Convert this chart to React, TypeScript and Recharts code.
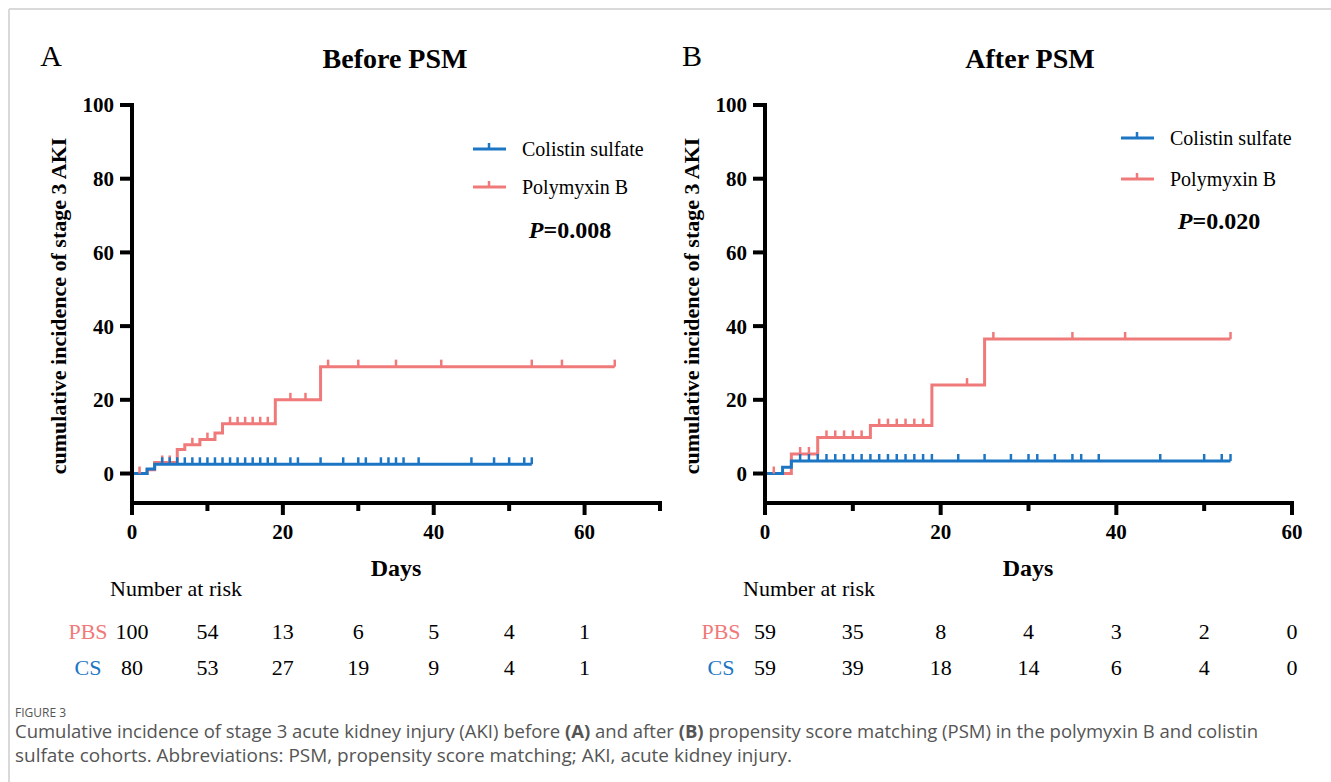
import React from "react";
import { LineChart, Line, XAxis, YAxis } from "recharts";

const BLUE = "#1d76c4";
const RED = "#f07a7a";
const SERIF = "'Liberation Serif', 'Times New Roman', serif";
const SANS = "'Open Sans', 'Noto Sans', sans-serif";

// panel A: before PSM  ([day, cumulative %] at each event step, then censor days)
const A_PB_STEPS: [number, number][] = [[0, 0], [2, 1], [3, 3], [6, 6.5], [7, 7.8], [9, 9.2], [11, 11], [12, 13.5], [19, 20], [25, 29]];
const A_PB_CENSOR = [1, 4, 5, 8, 10, 13, 14, 15, 16, 17, 18, 21, 23, 26, 30, 35, 41, 53, 57, 64];
const A_CS_STEPS: [number, number][] = [[0, 0], [2, 1.25], [3, 2.5]];
const A_CS_CENSOR = [4, 5, 6, 7, 8, 9, 10, 11, 12, 13, 14, 15, 16, 17, 18, 19, 21, 22, 25, 28, 30, 31, 33, 34, 35, 36, 38, 45, 48, 50, 52, 53];
const A_PB_RISK = [100, 54, 13, 6, 5, 4, 1];
const A_CS_RISK = [80, 53, 27, 19, 9, 4, 1];

// panel B: after PSM
const B_PB_STEPS: [number, number][] = [[0, 0], [3, 5.3], [6, 9.8], [12, 13], [19, 24], [25, 36.5]];
const B_PB_CENSOR = [1, 4, 5, 7, 8, 9, 10, 11, 13, 14, 15, 16, 17, 18, 23, 26, 35, 41, 53];
const B_CS_STEPS: [number, number][] = [[0, 0], [2, 1.7], [3, 3.4]];
const B_CS_CENSOR = [4, 5, 6, 7, 8, 9, 10, 11, 12, 13, 14, 15, 16, 17, 18, 19, 22, 25, 28, 30, 31, 33, 35, 36, 38, 45, 50, 52, 53];
const B_PB_RISK = [59, 35, 8, 4, 3, 2, 0];
const B_CS_RISK = [59, 39, 18, 14, 6, 4, 0];

const RISK_DAYS = [0, 10, 20, 30, 40, 50, 60];
const Y_TICKS = [0, 20, 40, 60, 80, 100];
const A_X_TICKS = [0, 10, 20, 30, 40, 50, 60, 70];
const B_X_TICKS = [0, 10, 20, 30, 40, 50, 60];

type Pt = { t: number; v: number; c: boolean };

function buildCurve(steps: [number, number][], censor: number[]): Pt[] {
  const pts: Pt[] = steps.map(([t, v]) => ({ t, v, c: false }));
  censor.forEach((t) => {
    let v = 0;
    steps.forEach(([s, lv]) => {
      if (s <= t) v = lv;
    });
    pts.push({ t, v, c: true });
  });
  return pts.sort((a, b) => a.t - b.t || Number(a.c) - Number(b.c));
}

const censorDot = (color: string) => (props: any) => {
  const { cx, cy, payload, index } = props;
  if (!payload || !payload.c) return <g key={index} />;
  return <line key={index} x1={cx} x2={cx} y1={cy} y2={cy - 7} stroke={color} strokeWidth={2.5} />;
};

function XTick(props: any) {
  const { x, y, payload, pbRisk, csRisk } = props;
  const v = payload.value;
  const major = v % 20 === 0;
  const ri = RISK_DAYS.indexOf(v);
  return (
    <g>
      <line x1={x} x2={x} y1={y} y2={y + (major ? 12 : 8)} stroke="#000" strokeWidth={4} />
      {major && (
        <text x={x} y={y + 29} textAnchor="middle" dominantBaseline="central" fontFamily={SERIF} fontSize={21} fontWeight={700} fill="#000">
          {v}
        </text>
      )}
      {ri >= 0 && (
        <g fontFamily={SERIF} fontSize={22} fill="#000">
          <text x={x} y={y + 128} textAnchor="middle" dominantBaseline="central">{pbRisk[ri]}</text>
          <text x={x} y={y + 164} textAnchor="middle" dominantBaseline="central">{csRisk[ri]}</text>
        </g>
      )}
      {ri === 0 && (
        <g fontFamily={SERIF} fontSize={22}>
          <text x={x - 22} y={y + 85} dominantBaseline="central" fill="#000">Number at risk</text>
          <text x={x - 44} y={y + 128} textAnchor="middle" dominantBaseline="central" fill={RED}>PBS</text>
          <text x={x - 44} y={y + 164} textAnchor="middle" dominantBaseline="central" fill={BLUE}>CS</text>
        </g>
      )}
    </g>
  );
}

function Panel(props: {
  left: number;
  width: number;
  right: number;
  xMax: number;
  xTicks: number[];
  pb: Pt[];
  cs: Pt[];
  pbRisk: number[];
  csRisk: number[];
}) {
  const { left, width, right, xMax, xTicks, pb, cs, pbRisk, csRisk } = props;
  return (
    <div style={{ position: "absolute", left, top: 0 }}>
      <LineChart width={width} height={700} margin={{ top: 105, right, left: 0, bottom: 0 }}>
        <XAxis
          type="number"
          dataKey="t"
          domain={[0, xMax]}
          ticks={xTicks}
          interval={0}
          allowDataOverflow
          height={197}
          tickSize={0}
          tickMargin={0}
          tickLine={false}
          axisLine={{ stroke: "#000", strokeWidth: 4, strokeLinecap: "square" }}
          tick={(p: any) => <XTick {...p} pbRisk={pbRisk} csRisk={csRisk} />}
        />
        <YAxis
          type="number"
          domain={[-8, 100]}
          ticks={Y_TICKS}
          interval={0}
          allowDataOverflow
          width={132}
          tickSize={12}
          tickMargin={6}
          tickLine={{ stroke: "#000", strokeWidth: 4 }}
          axisLine={{ stroke: "#000", strokeWidth: 4, strokeLinecap: "square" }}
          tick={{ fontFamily: SERIF, fontSize: 21, fontWeight: 700, fill: "#000" }}
        />
        <Line
          data={pb}
          dataKey="v"
          type="stepAfter"
          stroke={RED}
          strokeWidth={3}
          dot={censorDot(RED)}
          activeDot={false}
          isAnimationActive={false}
        />
        <Line
          data={cs}
          dataKey="v"
          type="stepAfter"
          stroke={BLUE}
          strokeWidth={3}
          dot={censorDot(BLUE)}
          activeDot={false}
          isAnimationActive={false}
        />
      </LineChart>
    </div>
  );
}

function LegendItem({ x, y, color, label }: { x: number; y: number; color: string; label: string }) {
  return (
    <g>
      <line x1={x} x2={x + 33} y1={y} y2={y} stroke={color} strokeWidth={3} />
      <line x1={x + 16} x2={x + 16} y1={y} y2={y - 6} stroke={color} strokeWidth={2.5} />
      <text x={x + 49} y={y} dominantBaseline="central" fontFamily={SERIF} fontSize={20} fill="#000">
        {label}
      </text>
    </g>
  );
}

function Overlay() {
  const t = { fontFamily: SERIF, fill: "#000" };
  return (
    <svg width={1331} height={782} style={{ position: "absolute", left: 0, top: 0, pointerEvents: "none" }}>
      <line x1={9} y1={9} x2={1331} y2={9} stroke="#d9d9d9" strokeWidth={2} />
      <line x1={9} y1={9} x2={9} y2={782} stroke="#d9d9d9" strokeWidth={2} />

      <text x={51} y={55} textAnchor="middle" dominantBaseline="central" fontSize={30} {...t}>A</text>
      <text x={395} y={58} textAnchor="middle" dominantBaseline="central" fontSize={28} fontWeight={700} {...t}>Before PSM</text>
      <text x={692} y={55} textAnchor="middle" dominantBaseline="central" fontSize={30} {...t}>B</text>
      <text x={1030} y={58} textAnchor="middle" dominantBaseline="central" fontSize={28} fontWeight={700} {...t}>After PSM</text>

      <text transform="translate(58,306) rotate(-90)" textAnchor="middle" dominantBaseline="central" fontSize={22} fontWeight={700} {...t}>
        cumulative incidence of stage 3 AKI
      </text>
      <text transform="translate(691,306) rotate(-90)" textAnchor="middle" dominantBaseline="central" fontSize={22} fontWeight={700} {...t}>
        cumulative incidence of stage 3 AKI
      </text>

      <text x={396} y={568} textAnchor="middle" dominantBaseline="central" fontSize={24} fontWeight={700} {...t}>Days</text>
      <text x={1028} y={568} textAnchor="middle" dominantBaseline="central" fontSize={24} fontWeight={700} {...t}>Days</text>

      <LegendItem x={473} y={149} color={BLUE} label="Colistin sulfate" />
      <LegendItem x={473} y={187} color={RED} label="Polymyxin B" />
      <text x={570} y={230} textAnchor="middle" dominantBaseline="central" fontSize={24} fontWeight={700} {...t}>
        <tspan fontStyle="italic">P</tspan>=0.008
      </text>

      <LegendItem x={1121} y={138} color={BLUE} label="Colistin sulfate" />
      <LegendItem x={1121} y={179} color={RED} label="Polymyxin B" />
      <text x={1219} y={221} textAnchor="middle" dominantBaseline="central" fontSize={24} fontWeight={700} {...t}>
        <tspan fontStyle="italic">P</tspan>=0.020
      </text>

      <g fontFamily={SANS} fill="#555">
        <text x={15} y={712} dominantBaseline="central" fontSize={12}>FIGURE 3</text>
        <text x={15} y={731} dominantBaseline="central" fontSize={17.5} textLength={1243} lengthAdjust="spacingAndGlyphs">
          Cumulative incidence of stage 3 acute kidney injury (AKI) before <tspan fontWeight={700}>(A)</tspan> and after{" "}
          <tspan fontWeight={700}>(B)</tspan> propensity score matching (PSM) in the polymyxin B and colistin
        </text>
        <text x={15} y={755} dominantBaseline="central" fontSize={17.5} textLength={777} lengthAdjust="spacingAndGlyphs">
          sulfate cohorts. Abbreviations: PSM, propensity score matching; AKI, acute kidney injury.
        </text>
      </g>
    </svg>
  );
}

export default function App() {
  const aPb = buildCurve(A_PB_STEPS, A_PB_CENSOR);
  const aCs = buildCurve(A_CS_STEPS, A_CS_CENSOR);
  const bPb = buildCurve(B_PB_STEPS, B_PB_CENSOR);
  const bCs = buildCurve(B_CS_STEPS, B_CS_CENSOR);
  return (
    <div style={{ position: "absolute", left: 0, top: 0, width: 1331, height: 782, background: "#fff" }}>
      <Panel left={0} width={680} right={20} xMax={70} xTicks={A_X_TICKS} pb={aPb} cs={aCs} pbRisk={A_PB_RISK} csRisk={A_CS_RISK} />
      <Panel left={633} width={680} right={21} xMax={60} xTicks={B_X_TICKS} pb={bPb} cs={bCs} pbRisk={B_PB_RISK} csRisk={B_CS_RISK} />
      <Overlay />
    </div>
  );
}
